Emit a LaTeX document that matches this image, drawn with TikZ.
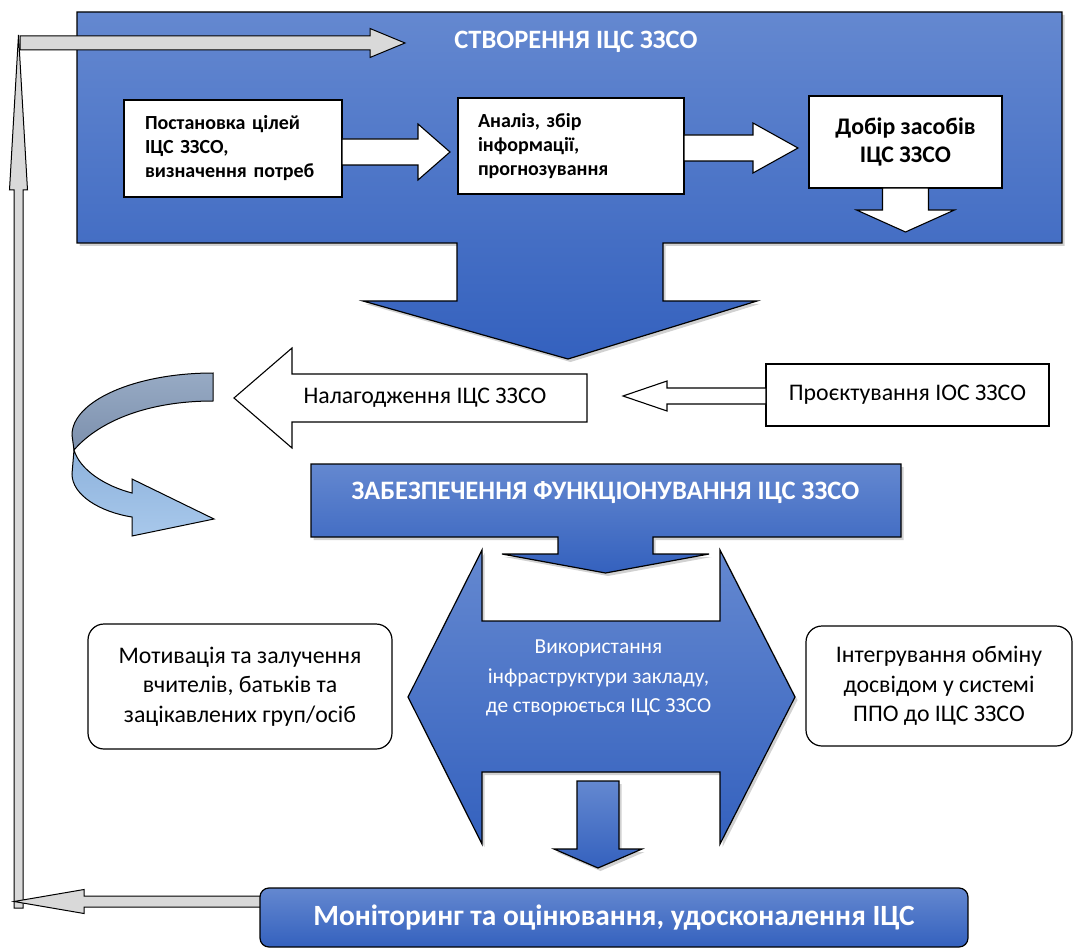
\documentclass[tikz,border=0pt]{standalone}
\usepackage{fontspec}
\setmainfont{Carlito}
\usetikzlibrary{shadows}
\definecolor{bluetop}{HTML}{6488D0}
\definecolor{bluebot}{HTML}{3461BE}
\definecolor{arrowgray}{HTML}{D9D9D9}
\definecolor{backtop}{HTML}{97AAC4}
\definecolor{backbot}{HTML}{7C90AD}
\definecolor{fronttop}{HTML}{8DB2DC}
\definecolor{frontbot}{HTML}{A8C8EB}
% [style]{start}{base}{tip}{centre}{stem half}{head half}
\newcommand\hblock[7][]{\draw[#1] (#2,{#5-#6}) -- (#3,{#5-#6}) -- (#3,{#5-#7}) -- (#4,#5) -- (#3,{#5+#7}) -- (#3,{#5+#6}) -- (#2,{#5+#6}) -- cycle;}
\newcommand\vblock[7][]{\draw[#1] ({#5-#6},#2) -- ({#5-#6},#3) -- ({#5-#7},#3) -- (#5,#4) -- ({#5+#7},#3) -- ({#5+#6},#3) -- ({#5+#6},#2) -- cycle;}
\tikzset{
  outl/.style={draw=black, line width=1.2pt, line join=miter},
  shadowed/.style={drop shadow={shadow xshift=2.5pt, shadow yshift=-3pt, opacity=0.18, fill=black}},
  bluefill/.style={outl, top color=bluetop, bottom color=bluebot},
  whitebox/.style={outl, fill=white},
  grayarr/.style={draw=black, line width=1pt, fill=arrowgray},
  whitearr/.style={draw=black, line width=1.1pt, fill=white},
  normtxt/.style={font=\fontsize{23.8}{29.5}\selectfont, align=center, inner sep=0pt},
  smallbold/.style={font=\fontsize{20}{24}\selectfont\bfseries},
  whitetxt/.style={text=white, inner sep=0pt, align=center},
}
\begin{document}
\begin{tikzpicture}[x=1pt,y=-1pt]
\useasboundingbox (0,0) rectangle (1073,949);

% feedback loop (grey arrows)
\vblock[grayarr]{908}{190}{35}{18.5}{4.5}{9}
\hblock[grayarr]{270}{84}{14}{901.5}{5.5}{12}

% top callout
\draw[bluefill, shadowed] (77,12) -- (1062,12) -- (1062,243) -- (663,243) -- (663,301)
  -- (757,301) -- (568,359) -- (363,301) -- (457,301) -- (457,243) -- (77,243) -- cycle;
\hblock[grayarr]{20}{370}{405}{43}{7}{14.5}
\node[whitetxt, font=\fontsize{26.5}{30}\selectfont\bfseries] (t0) at (576,42) {СТВОРЕННЯ ІЦС ЗЗСО};

\node[whitebox, smallbold, minimum width=218pt, minimum height=97pt, text width=176pt,
      inner xsep=21pt, inner ysep=0pt, align=left] (b1) at (233,148.5)
      {Постановка цілей\\ІЦС ЗЗСО,\\визначення потреб};
\node[whitebox, smallbold, minimum width=226pt, minimum height=96pt, text width=186pt,
      inner xsep=20pt, inner ysep=0pt, align=left] (b2) at (571,146)
      {Аналіз, збір\\інформації,\\прогнозування};
\node[whitebox, font=\fontsize{23.8}{28}\selectfont\bfseries, minimum width=193pt,
      minimum height=92pt, inner sep=0pt, align=center] (b3) at (905.5,142)
      {Добір засобів\\ІЦС ЗЗСО};
\hblock[whitearr]{342}{418}{450}{152}{13}{28}
\hblock[whitearr]{684}{753}{798}{148}{13}{25}
\vblock[whitearr]{188}{210}{232}{905.5}{23}{49}

% Налагодження
\hblock[whitearr]{587}{292}{234}{398}{24}{50}
\node[normtxt] (nal) at (425,398) {Налагодження ІЦС ЗЗСО};
\node[whitebox, normtxt, minimum width=283pt, minimum height=62pt] (proj) at (907.5,395)
  {Проєктування ІОС ЗЗСО};
\hblock[whitearr]{766}{667}{623}{396}{8}{15}

% curved arrow
\draw[outl, line width=1pt, top color=backtop, bottom color=backbot]
  (213,373) .. controls (135,373) and (72,401) .. (72,435) -- (74,450)
  .. controls (100,420) and (150,401) .. (213,401) -- cycle;
\draw[outl, line width=1pt, top color=fronttop, bottom color=frontbot]
  (74,450) -- (72,474) .. controls (72,495) and (100,512) .. (132,517)
  -- (132,536) -- (214,519) -- (132,479) -- (132,493)
  .. controls (105,486) and (80,470) .. (74,450) -- cycle;

% double arrow
\draw[bluefill, shadowed] (408,697) -- (482,550) -- (482,621) -- (720,621) -- (720,550)
  -- (795,697) -- (720,844) -- (720,772) -- (482,772) -- (482,844) -- cycle;
\node[whitetxt, font=\fontsize{21.4}{29.5}\selectfont] (use) at (598.5,678)
  {Використання\\інфраструктури закладу,\\де створюється ІЦС ЗЗСО};

% ЗАБЕЗПЕЧЕННЯ callout
\draw[bluefill, shadowed] (311,464) -- (901,464) -- (901,537) -- (653,537) -- (653,554)
  -- (709,554) -- (605.5,573) -- (502,554) -- (558,554) -- (558,537) -- (311,537) -- cycle;
\node[whitetxt, font=\fontsize{26.6}{30}\selectfont\bfseries] (zab) at (605.5,493)
  {ЗАБЕЗПЕЧЕННЯ ФУНКЦІОНУВАННЯ ІЦС ЗЗСО};

% side boxes
\node[whitebox, normtxt, rounded corners=16pt, minimum width=304pt, minimum height=125pt] (mot)
  at (240,686.5) {Мотивація та залучення\\вчителів, батьків та\\зацікавлених груп/осіб};
\node[whitebox, normtxt, rounded corners=16pt, minimum width=266pt, minimum height=120pt] (int)
  at (939,686) {Інтегрування обміну\\досвідом у системі\\ППО до ІЦС ЗЗСО};

% down arrow to monitoring
\vblock[bluefill, shadowed]{781}{849}{868}{598}{21}{44}

% monitoring
\node[bluefill, rounded corners=9pt, minimum width=708pt, minimum height=59pt, whitetxt,
      font=\fontsize{29.4}{33}\selectfont\bfseries] (mon) at (614,917.5)
  {Моніторинг та оцінювання, удосконалення ІЦС};
\end{tikzpicture}
\end{document}
